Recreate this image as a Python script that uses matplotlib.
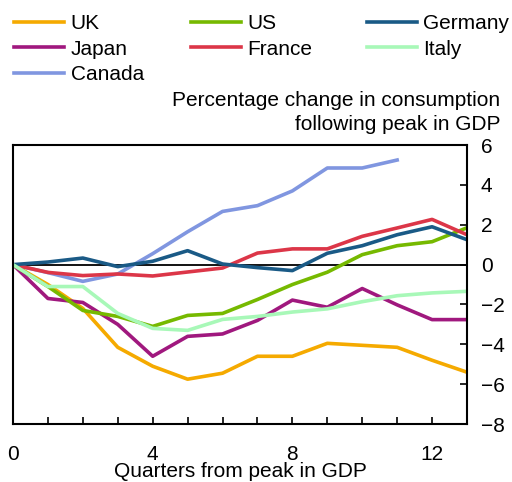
import matplotlib.pyplot as plt
import numpy as np

plt.rcParams['font.family'] = ['Liberation Sans', 'DejaVu Sans']

quarters = np.arange(14)
uk = [0, -1.0, -2.2, -4.15, -5.1, -5.75, -5.45, -4.6, -4.6, -3.95, -4.05, -4.15, -4.8, -5.4]
us = [0, -1.1, -2.3, -2.6, -3.1, -2.55, -2.45, -1.75, -1.0, -0.38, 0.5, 0.95, 1.15, 1.85]
germany = [0, 0.13, 0.33, -0.1, 0.17, 0.7, 0.03, -0.15, -0.3, 0.57, 0.95, 1.5, 1.9, 1.25]
japan = [0, -1.7, -1.9, -3.0, -4.6, -3.6, -3.48, -2.8, -1.78, -2.14, -1.2, -2.02, -2.76, -2.76]
france = [0, -0.39, -0.55, -0.47, -0.57, -0.37, -0.17, 0.58, 0.79, 0.79, 1.42, 1.84, 2.27, 1.5]
italy = [0, -1.1, -1.1, -2.45, -3.2, -3.3, -2.75, -2.6, -2.38, -2.22, -1.86, -1.56, -1.42, -1.34]
canada = [0, -0.4, -0.84, -0.47, 0.55, 1.65, 2.67, 2.96, 3.7, 4.85, 4.85, 5.25]

# legend columns as in the original (row-wise reading order)
columns = [
    [('UK', uk, '#F5AA00'), ('Japan', japan, '#A0187E'), ('Canada', canada, '#8096E0')],
    [('US', us, '#76B900'), ('France', france, '#DC3648')],
    [('Germany', germany, '#1A5A86'), ('Italy', italy, '#A8F8B8')],
]
col_x = [0.028, 0.373, 0.717]

fig = plt.figure(figsize=(5.12, 4.82), dpi=100)
ax = fig.add_axes([0.0254, 0.1203, 0.8867, 0.5787])

for col, x0 in zip(columns, col_x):
    handles = []
    for name, vals, colr in col:
        h, = ax.plot(quarters[:len(vals)], vals, color=colr, linewidth=2.6, label=name)
        handles.append(h)
    fig.legend(handles=handles, loc='upper left', bbox_to_anchor=(x0, 0.97),
               frameon=False, fontsize=15, handlelength=2.4, handletextpad=0.3,
               labelspacing=0.3, borderpad=0, borderaxespad=0)

ax.axhline(0, color='black', linewidth=1.3, zorder=1)
ax.set_xlim(0, 13)
ax.set_ylim(-8, 6)
ax.set_xticks(np.arange(0, 14))
ax.set_xticklabels(['0', '', '', '', '4', '', '', '', '8', '', '', '', '12', ''])
ax.set_yticks(np.arange(-8, 7, 2))
ax.yaxis.tick_right()
ax.tick_params(axis='both', direction='in', length=5, width=1.2, labelsize=15)
ax.tick_params(axis='x', pad=15)
ax.tick_params(axis='y', pad=10)
for s in ax.spines.values():
    s.set_linewidth(1.5)

ax.set_xlabel('Quarters from peak in GDP', fontsize=15, labelpad=-1)
fig.text(0.977, 0.767, 'Percentage change in consumption\nfollowing peak in GDP',
         ha='right', va='center', fontsize=15, linespacing=1.3)

fig.savefig('out.png', dpi=100)
